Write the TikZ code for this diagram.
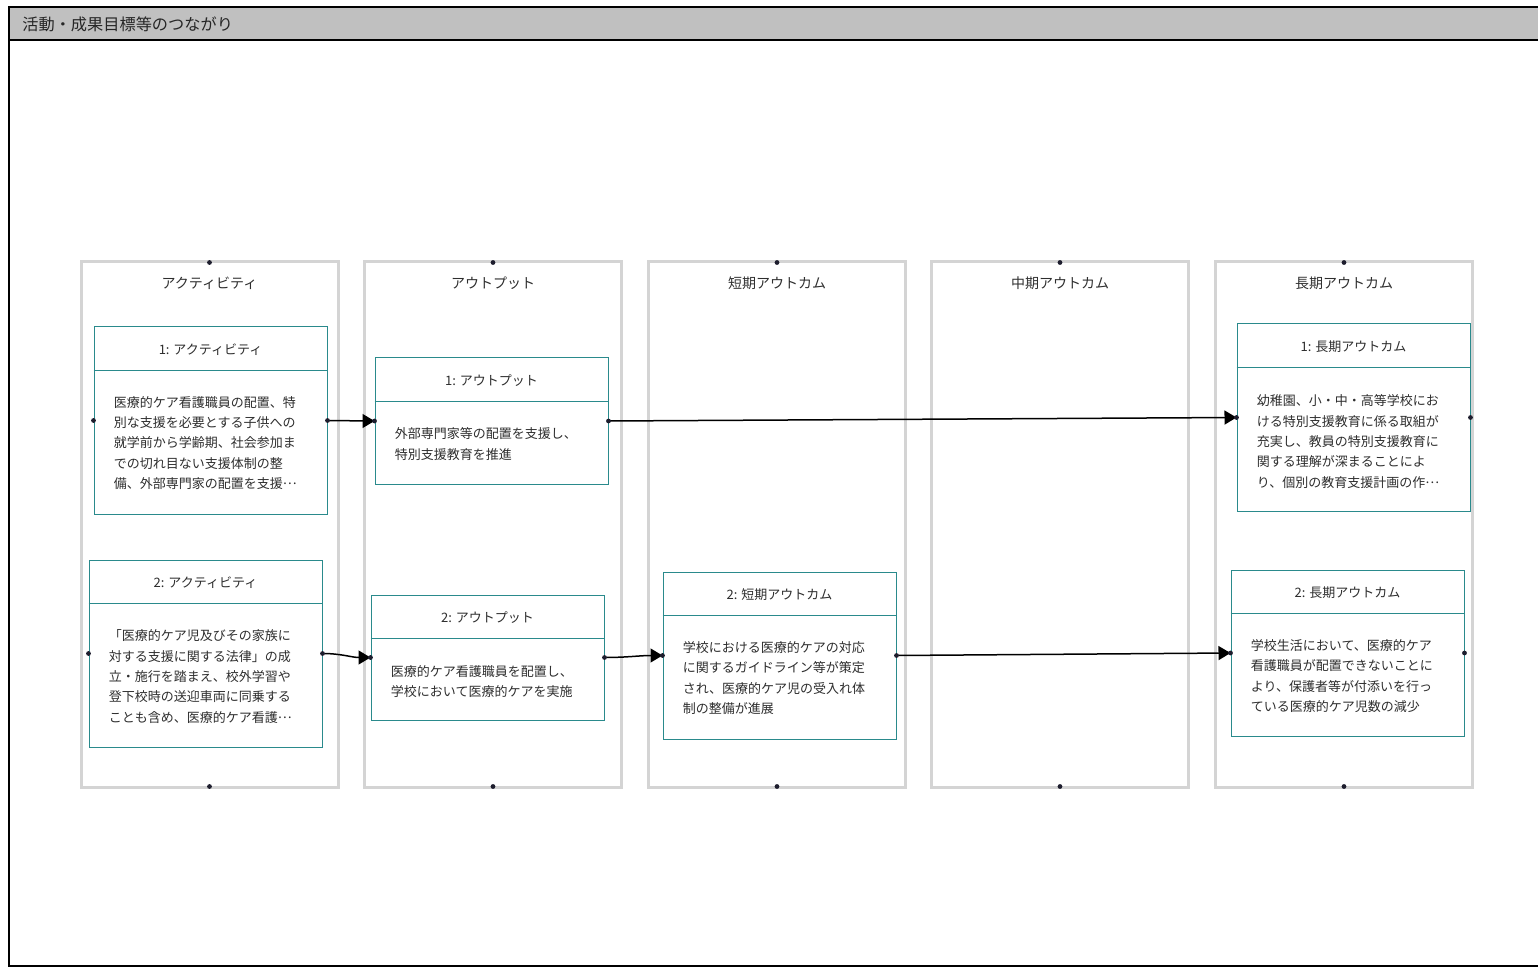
\documentclass[tikz,border=0pt]{standalone}
\usepackage{fontspec}
\setmainfont{Noto Sans CJK JP}
\usepackage{xcolor}
\usetikzlibrary{arrows.meta,positioning,calc}
\definecolor{lanegray}{HTML}{D4D4D4}
\definecolor{boxteal}{HTML}{2A8A8C}
\definecolor{headgray}{HTML}{C0C0C0}
\definecolor{txtgray}{HTML}{2E2E2E}
\definecolor{dotblue}{HTML}{1E1E2E}
\newcommand{\jpdots}{\raisebox{.3em}{…}}

\begin{document}
\begin{tikzpicture}[x = .5pt, y = -.5pt,
  lane/.style = {draw = lanegray, line width = 1.5pt, minimum width = 128.5pt, minimum height = 262.5pt, inner sep = 0},
  lanetitle/.style = {text = txtgray, font = \fontsize{7pt}{8pt}\selectfont, inner sep = 0},
  box/.style = {draw = boxteal, line width = .5pt, fill = white, minimum width = 116.5pt, inner sep = 0},
  boxtitle/.style = {text = txtgray, font = \fontsize{6.5pt}{8pt}\selectfont, inner sep = 0},
  boxtext/.style = {anchor = west, align = left, text = txtgray, font = \fontsize{6.5pt}{10.15pt}\selectfont, inner sep = 0},
  flow/.style = {-{Triangle[length = 6pt, width = 7pt]}, line width = .75pt, black},
  pin/.style = {fill = dotblue}]
\useasboundingbox (0,0) rectangle (1538,968);
% frame and header band
\fill[headgray] (9,7) rectangle (1538,40);
\draw[line width = 1pt] (1538,7) -- (9,7) -- (9,966) -- (1538,966);
\draw[line width = 1pt] (9,40) -- (1538,40);
\node[anchor = west, text = black!85, font = \fontsize{8.1pt}{9pt}\selectfont, inner sep = 0] (head) at (22,24.5) {活動・成果目標等のつながり};
% lanes
\node[lane] (l1) at (209.5,524.5) {};
\node[lane] (l2) at (493,524.5) {};
\node[lane] (l3) at (777,524.5) {};
\node[lane] (l4) at (1060,524.5) {};
\node[lane] (l5) at (1344,524.5) {};
\node[lanetitle] (t1) at ($(l1.north)+(0,23)$) {アクティビティ};
\node[lanetitle] (t2) at ($(l2.north)+(0,23)$) {アウトプット};
\node[lanetitle] (t3) at ($(l3.north)+(0,23)$) {短期アウトカム};
\node[lanetitle] (t4) at ($(l4.north)+(0,23)$) {中期アウトカム};
\node[lanetitle] (t5) at ($(l5.north)+(0,23)$) {長期アウトカム};
% boxes
\node[box, minimum height = 93.5pt] (a1) at (210.5,420.5) {};
\node[box, minimum height = 93.5pt] (a2) at (205.5,653.5) {};
\node[box, minimum height = 63pt] (o1) at (491.5,421) {};
\node[box, minimum height = 62.5pt] (o2) at (487.5,657.5) {};
\node[box, minimum height = 83.5pt] (s2) at (779.5,655.5) {};
\node[box, minimum height = 93.5pt] (g1) at (1353.5,417.5) {};
\node[box, minimum height = 83pt] (g2) at (1347.5,653) {};
\draw[boxteal, line width = .6pt] ($(a1.north west)+(0,44)$) -- ($(a1.north east)+(0,44)$);
\draw[boxteal, line width = .6pt] ($(a2.north west)+(0,44)$) -- ($(a2.north east)+(0,44)$);
\draw[boxteal, line width = .6pt] ($(o1.north west)+(0,44)$) -- ($(o1.north east)+(0,44)$);
\draw[boxteal, line width = .6pt] ($(o2.north west)+(0,44)$) -- ($(o2.north east)+(0,44)$);
\draw[boxteal, line width = .6pt] ($(s2.north west)+(0,44)$) -- ($(s2.north east)+(0,44)$);
\draw[boxteal, line width = .6pt] ($(g1.north west)+(0,44)$) -- ($(g1.north east)+(0,44)$);
\draw[boxteal, line width = .6pt] ($(g2.north west)+(0,44)$) -- ($(g2.north east)+(0,44)$);
\node[boxtitle] (a1t) at ($(a1.north)+(0,23)$) {1: アクティビティ};
\node[boxtitle] (a2t) at ($(a2.north)+(0,23)$) {2: アクティビティ};
\node[boxtitle] (o1t) at ($(o1.north)+(0,23)$) {1: アウトプット};
\node[boxtitle] (o2t) at ($(o2.north)+(0,23)$) {2: アウトプット};
\node[boxtitle] (s2t) at ($(s2.north)+(0,23)$) {2: 短期アウトカム};
\node[boxtitle] (g1t) at ($(g1.north)+(0,23)$) {1: 長期アウトカム};
\node[boxtitle] (g2t) at ($(g2.north)+(0,23)$) {2: 長期アウトカム};
\node[boxtext] (a1b) at ($(a1.west)+(20,22.5)$) {医療的ケア看護職員の配置、特\\別な支援を必要とする子供への\\就学前から学齢期、社会参加ま\\での切れ目ない支援体制の整\\備、外部専門家の配置を支援\jpdots};
\node[boxtext] (a2b) at ($(a2.west)+(20,23)$) {「医療的ケア児及びその家族に\\対する支援に関する法律」の成\\立・施行を踏まえ、校外学習や\\登下校時の送迎車両に同乗する\\ことも含め、医療的ケア看護\jpdots};
\node[boxtext] (o1b) at ($(o1.west)+(20,23)$) {外部専門家等の配置を支援し、\\特別支援教育を推進};
\node[boxtext] (o2b) at ($(o2.west)+(20,24)$) {医療的ケア看護職員を配置し、\\学校において医療的ケアを実施};
\node[boxtext] (s2b) at ($(s2.west)+(20,22.5)$) {学校における医療的ケアの対応\\に関するガイドライン等が策定\\され、医療的ケア児の受入れ体\\制の整備が進展};
\node[boxtext] (g1b) at ($(g1.west)+(20,24)$) {幼稚園、小・中・高等学校にお\\ける特別支援教育に係る取組が\\充実し、教員の特別支援教育に\\関する理解が深まることによ\\り、個別の教育支援計画の作\jpdots};
\node[boxtext] (g2b) at ($(g2.west)+(20,23)$) {学校生活において、医療的ケア\\看護職員が配置できないことに\\より、保護者等が付添いを行っ\\ている医療的ケア児数の減少};
% connectors
\draw[flow] (a1.east) to[out = 0, in = 180] (o1.west);
\draw[flow] (a2.east) to[out = 0, in = 180] (o2.west);
\draw[flow] (o1.east) -- (g1.west);
\draw[flow] (o2.east) to[out = 0, in = 180] (s2.west);
\draw[flow] (s2.east) -- (g2.west);
% anchor dots
\fill[pin] ($(l1.north)+(0,2)$) circle (1.2pt);
\fill[pin] ($(l2.north)+(0,2)$) circle (1.2pt);
\fill[pin] ($(l3.north)+(0,2)$) circle (1.2pt);
\fill[pin] ($(l4.north)+(0,2)$) circle (1.2pt);
\fill[pin] ($(l5.north)+(0,2)$) circle (1.2pt);
\fill[pin] ($(l1.south)+(0,-2)$) circle (1.2pt);
\fill[pin] ($(l2.south)+(0,-2)$) circle (1.2pt);
\fill[pin] ($(l3.south)+(0,-2)$) circle (1.2pt);
\fill[pin] ($(l4.south)+(0,-2)$) circle (1.2pt);
\fill[pin] ($(l5.south)+(0,-2)$) circle (1.2pt);
\fill[pin] (a1.west) circle (1.2pt);
\fill[pin] (a1.east) circle (1.2pt);
\fill[pin] (a2.west) circle (1.2pt);
\fill[pin] (a2.east) circle (1.2pt);
\fill[pin] (o1.west) circle (1.2pt);
\fill[pin] (o1.east) circle (1.2pt);
\fill[pin] (o2.west) circle (1.2pt);
\fill[pin] (o2.east) circle (1.2pt);
\fill[pin] (s2.west) circle (1.2pt);
\fill[pin] (s2.east) circle (1.2pt);
\fill[pin] (g1.west) circle (1.2pt);
\fill[pin] (g1.east) circle (1.2pt);
\fill[pin] (g2.west) circle (1.2pt);
\fill[pin] (g2.east) circle (1.2pt);
\end{tikzpicture}
\end{document}
